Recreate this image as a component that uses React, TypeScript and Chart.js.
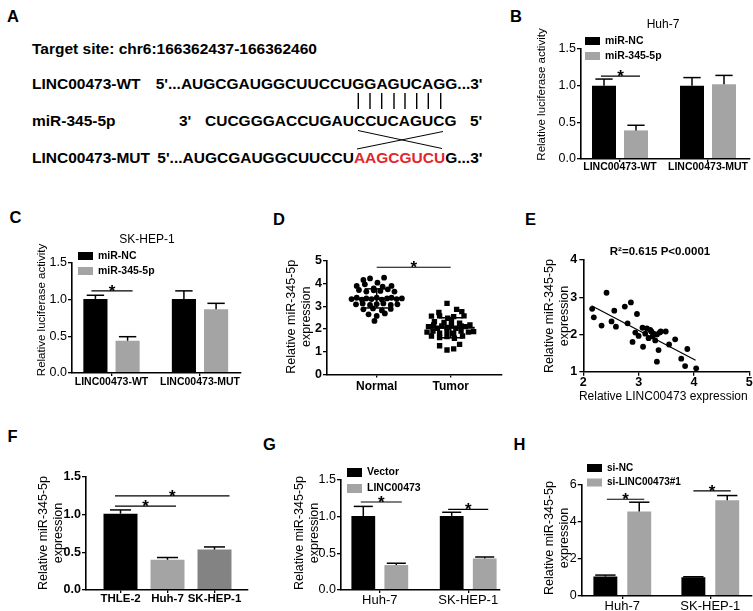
import React, { useEffect, useRef } from 'react';
import { Chart, registerables } from 'chart.js';

Chart.register(...registerables);

// ---------------- data ----------------
// B: luciferase, Huh-7
const lucLabels = ['LINC00473-WT', 'LINC00473-MUT'];
const huhNC = [1.0, 1.0];
const huhNCErr = [0.09, 0.11];
const huhMiR = [0.39, 1.02];
const huhMiRErr = [0.07, 0.12];
// C: luciferase, SK-HEP-1
const skNC = [1.01, 1.01];
const skNCErr = [0.05, 0.11];
const skMiR = [0.44, 0.87];
const skMiRErr = [0.055, 0.08];
// D: tissue expression
const dLabels = ['Normal', 'Tumor'];
const normalValues = [4.15, 4.22, 4.03, 4.25, 3.89, 3.96, 3.78, 3.86, 3.89, 3.71, 3.64, 3.70, 3.67, 3.74, 3.64, 3.31, 3.37, 3.29, 3.34, 3.31, 3.37, 3.29, 3.34, 3.37, 3.31, 3.34, 3.08, 3.12, 3.05, 3.09, 3.12, 3.05, 3.08, 2.86, 2.90, 2.81, 2.88, 2.64, 2.57, 2.68, 2.35];
const normalJitter = [-0.18, -0.09, 0.01, 0.10, -0.27, -0.16, -0.04, 0.08, 0.20, -0.24, -0.14, -0.04, 0.05, 0.15, 0.24, -0.34, -0.27, -0.20, -0.14, -0.07, 0, 0.07, 0.14, 0.20, 0.27, 0.34, -0.28, -0.19, -0.09, 0, 0.09, 0.19, 0.28, -0.18, -0.05, 0.07, 0.19, -0.11, 0, 0.11, -0.03];
const tumorValues = [3.12, 2.86, 2.76, 2.72, 2.56, 2.57, 2.47, 2.54, 2.57, 2.32, 2.28, 2.35, 2.25, 2.10, 2.17, 2.03, 2.13, 2.06, 2.14, 2.03, 2.13, 2.10, 2.17, 1.86, 1.91, 1.81, 1.88, 1.81, 1.91, 1.86, 1.88, 1.69, 1.62, 1.66, 1.59, 1.69, 1.26, 1.07, 1.12, 1.32];
const tumorJitter = [-0.05, 0.08, 0.15, -0.16, -0.26, -0.15, -0.04, 0.04, 0.18, -0.22, -0.09, 0.01, 0.12, -0.30, -0.23, -0.18, -0.12, -0.05, 0.01, 0.07, 0.14, 0.20, 0.26, -0.32, -0.24, -0.15, -0.05, 0.04, 0.14, 0.24, 0.31, -0.26, -0.15, -0.05, 0.05, 0.16, -0.15, -0.05, 0.04, 0.12];
const dMeans = [3.34, 2.05];
const dSDs = [0.42, 0.44];
// E: correlation
const eLinc = [2.16, 2.19, 2.33, 2.42, 2.51, 2.56, 2.59, 2.75, 2.80, 2.86, 2.89, 2.94, 2.97, 3.00, 3.07, 3.08, 3.12, 3.15, 3.18, 3.21, 3.23, 3.25, 3.27, 3.30, 3.33, 3.33, 3.36, 3.38, 3.40, 3.49, 3.55, 3.66, 3.77, 3.84, 3.88, 4.04];
const eMiR = [2.69, 2.46, 2.24, 3.12, 2.35, 2.64, 2.21, 2.75, 2.30, 2.86, 1.80, 2.05, 2.55, 1.96, 2.18, 1.67, 2.02, 2.16, 1.90, 2.12, 2.08, 1.95, 2.02, 1.84, 2.00, 1.27, 1.58, 2.05, 2.08, 2.08, 1.73, 1.87, 1.35, 1.15, 1.61, 1.09];
const eFitX = [2.15, 4.03];
const eFitY = [2.77, 1.31];
// F: cell lines
const fLabels = ['THLE-2', 'Huh-7', 'SK-HEP-1'];
const fValues = [1.01, 0.40, 0.535];
const fErr = [0.05, 0.03, 0.035];
// G: overexpression
const cellLabels = ['Huh-7', 'SK-HEP-1'];
const gVector = [1.01, 1.01];
const gVectorErr = [0.13, 0.05];
const gLinc = [0.34, 0.43];
const gLincErr = [0.025, 0.02];
// H: knockdown
const hSiNC = [1.05, 1.02];
const hSiNCErr = [0.08, 0.02];
const hSiLinc = [4.57, 5.18];
const hSiLincErr = [0.5, 0.25];

// ---------------- style helpers ----------------
const CW = 900;
const CH = 700;
const AXW = 40;
const AXH = 30;
const FF = "'Liberation Sans', Arial, Helvetica, sans-serif";
const BLACK = '#000000';
const GRAY = '#a4a4a4';
const DGRAY = '#838383';

const f = (size: number, bold = false) => `${bold ? 'bold ' : ''}${size}px ${FF}`;
const cf = (size: number, bold = false) => ({ family: FF, size, weight: bold ? 'bold' : 'normal', lineHeight: 1 });
const gridOpts = (tl: number) => ({ display: true, drawOnChartArea: false, drawTicks: true, tickLength: tl, tickWidth: 1.3, tickColor: '#000', color: '#000', lineWidth: 1.3, offset: false });
const borderOpts = { display: true, color: '#000', width: 1.6, z: 1 };

function line(ctx: CanvasRenderingContext2D, x1: number, y1: number, x2: number, y2: number, w: number) {
  ctx.lineWidth = w;
  ctx.strokeStyle = '#000';
  ctx.beginPath();
  ctx.moveTo(x1, y1);
  ctx.lineTo(x2, y2);
  ctx.stroke();
}
function txt(ctx: CanvasRenderingContext2D, s: string, x: number, y: number, font: string, align: CanvasTextAlign = 'center', base: CanvasTextBaseline = 'middle') {
  ctx.font = font;
  ctx.textAlign = align;
  ctx.textBaseline = base;
  ctx.fillStyle = '#000';
  ctx.fillText(s, x, y);
}
function vtxt(ctx: CanvasRenderingContext2D, s: string, x: number, y: number, font: string) {
  ctx.save();
  ctx.translate(x, y);
  ctx.rotate(-Math.PI / 2);
  txt(ctx, s, 0, 0, font);
  ctx.restore();
}
function star(ctx: CanvasRenderingContext2D, x: number, lineY: number) {
  txt(ctx, '*', x, lineY - 4 + 9.8, f(17, true), 'center', 'alphabetic');
}
function drawDecor(ctx: CanvasRenderingContext2D, p: any) {
  if (p.yTitle) p.yTitle.lines.forEach((s: string, i: number) => vtxt(ctx, s, p.yTitle.xs[i], p.yTitle.cy, p.yTitle.font));
  if (p.title) txt(ctx, p.title.text, p.title.x, p.title.y, p.title.font);
  if (p.xTitle) txt(ctx, p.xTitle.text, p.xTitle.x, p.xTitle.y, p.xTitle.font);
  if (p.legend) {
    const L = p.legend;
    L.items.forEach((it: any, i: number) => {
      const y = L.y + i * L.dy;
      ctx.fillStyle = it.color;
      ctx.fillRect(L.x, y, L.w, L.h);
      txt(ctx, it.text, L.x + L.w + 5, y + L.h / 2, L.font, 'left');
    });
  }
}

// ---------------- bar panels ----------------
function barAnnot(p: any) {
  return {
    id: 'annot',
    afterDraw(chart: any) {
      const ctx = chart.ctx as CanvasRenderingContext2D;
      const ys = chart.scales.y;
      ctx.save();
      p.sets.forEach((s: any, di: number) => {
        const meta = chart.getDatasetMeta(di);
        meta.data.forEach((el: any, i: number) => {
          const top = ys.getPixelForValue(s.values[i] + s.errors[i]);
          const hw = (el.width * p.capRatio) / 2;
          line(ctx, el.x, el.y, el.x, top, 1.5);
          line(ctx, el.x - hw, top, el.x + hw, top, 1.5);
        });
      });
      p.sig.forEach((g: any) => {
        const xa = chart.getDatasetMeta(g.a[0]).data[g.a[1]].x - g.l;
        const xb = chart.getDatasetMeta(g.b[0]).data[g.b[1]].x + g.r;
        const y = ys.getPixelForValue(g.v);
        line(ctx, xa, y, xb, y, 1.2);
        star(ctx, (xa + xb) / 2, y);
      });
      drawDecor(ctx, p);
      ctx.restore();
    },
  };
}

function barPanel(p: any) {
  const min = 1 - (p.first - p.x0) / p.spacing;
  const max = min + (p.x1 - p.x0) / p.spacing;
  return {
    type: 'bar',
    data: {
      datasets: p.sets.map((s: any) => ({
        data: s.values.map((v: number, i: number) => ({ x: i + 1, y: v })),
        backgroundColor: s.color,
        borderWidth: 0,
        categoryPercentage: p.catPct,
        barPercentage: p.barPct,
      })),
    },
    options: {
      animation: false,
      responsive: false,
      devicePixelRatio: 1,
      events: [],
      layout: { padding: { left: p.x0 - AXW, top: p.y0, right: CW - p.x1, bottom: CH - p.y1 - AXH } },
      plugins: { legend: { display: false }, tooltip: { enabled: false } },
      scales: {
        x: {
          type: 'linear',
          min,
          max,
          offset: false,
          afterBuildTicks: (s: any) => {
            s.ticks = p.labels.map((_: any, i: number) => ({ value: i + 1 }));
          },
          afterFit: (s: any) => {
            s.height = AXH;
          },
          grid: gridOpts(3),
          border: borderOpts,
          ticks: {
            autoSkip: false,
            maxRotation: 0,
            minRotation: 0,
            padding: p.xPad,
            color: '#000',
            font: p.xFont,
            callback: (v: number) => p.labels[Math.round(v) - 1] ?? '',
          },
        },
        y: {
          type: 'linear',
          min: 0,
          max: p.yMax,
          afterFit: (s: any) => {
            s.width = AXW;
          },
          grid: gridOpts(4),
          border: borderOpts,
          ticks: { stepSize: p.yStep, padding: 1, color: '#000', font: p.yFont, callback: (v: number) => Number(v).toFixed(p.yDec) },
        },
      },
    },
    plugins: [barAnnot(p)],
  };
}

const lucTitle = (x: number, cy: number) => ({ lines: ['Relative luciferase activity'], xs: [x], cy, font: f(11.5) });
const mirTitle = (x1: number, x2: number, cy: number) => ({ lines: ['Relative miR-345-5p', 'expression'], xs: [x1, x2], cy, font: f(12.5) });

const panelB = () =>
  barPanel({
    x0: 581, x1: 750, y0: 49, y1: 159, first: 620, spacing: 88,
    labels: lucLabels, yMax: 1.5, yStep: 0.5, yDec: 1, yFont: cf(12.5), xFont: cf(10.5, true), xPad: 0,
    catPct: 0.727, barPct: 0.75, capRatio: 0.72,
    sets: [
      { values: huhNC, errors: huhNCErr, color: BLACK },
      { values: huhMiR, errors: huhMiRErr, color: GRAY },
    ],
    sig: [{ a: [0, 0], b: [1, 0], v: 1.13, l: 3, r: 4 }],
    yTitle: lucTitle(542, 94.5),
    title: { text: 'Huh-7', x: 663, y: 25, font: f(12) },
    legend: { x: 585, y: 37, dy: 15, w: 15, h: 8, font: f(10.5, true), items: [{ color: BLACK, text: 'miR-NC' }, { color: GRAY, text: 'miR-345-5p' }] },
  });

const panelC = () =>
  barPanel({
    x0: 72, x1: 241, y0: 263, y1: 373, first: 111.5, spacing: 88.5,
    labels: lucLabels, yMax: 1.5, yStep: 0.5, yDec: 1, yFont: cf(12.5), xFont: cf(10.5, true), xPad: 1,
    catPct: 0.727, barPct: 0.75, capRatio: 0.72,
    sets: [
      { values: skNC, errors: skNCErr, color: BLACK },
      { values: skMiR, errors: skMiRErr, color: GRAY },
    ],
    sig: [{ a: [0, 0], b: [1, 0], v: 1.12, l: 4, r: 5 }],
    yTitle: lucTitle(42, 310),
    title: { text: 'SK-HEP-1', x: 147, y: 240, font: f(12) },
    legend: { x: 78, y: 252, dy: 15, w: 15, h: 8, font: f(10.5, true), items: [{ color: BLACK, text: 'miR-NC' }, { color: GRAY, text: 'miR-345-5p' }] },
  });

const panelF = () =>
  barPanel({
    x0: 86, x1: 248, y0: 476.7, y1: 590, first: 120.5, spacing: 47,
    labels: fLabels, yMax: 1.5, yStep: 0.5, yDec: 1, yFont: cf(12.5, true), xFont: cf(11.5, true), xPad: 0,
    catPct: 1, barPct: 0.723, capRatio: 0.62,
    sets: [{ values: fValues, errors: fErr, color: [BLACK, GRAY, DGRAY] }],
    sig: [
      { a: [0, 0], b: [0, 2], v: 1.245, l: 5.5, r: 15 },
      { a: [0, 0], b: [0, 1], v: 1.11, l: 5.5, r: 8.5 },
    ],
    yTitle: mirTitle(43.3, 58.3, 533),
  });

const panelG = () =>
  barPanel({
    x0: 341, x1: 500, y0: 480, y1: 590, first: 379.8, spacing: 88.4,
    labels: cellLabels, yMax: 1.5, yStep: 0.5, yDec: 1, yFont: cf(12.5), xFont: cf(13), xPad: 1,
    catPct: 0.747, barPct: 0.72, capRatio: 0.8,
    sets: [
      { values: gVector, errors: gVectorErr, color: BLACK },
      { values: gLinc, errors: gLincErr, color: GRAY },
    ],
    sig: [
      { a: [0, 0], b: [1, 0], v: 1.2, l: 2.5, r: 5.5 },
      { a: [0, 1], b: [1, 1], v: 1.1, l: 3.5, r: 3.5 },
    ],
    yTitle: mirTitle(300, 315, 533),
    legend: { x: 347, y: 468, dy: 16, w: 15, h: 9, font: f(10.5, true), items: [{ color: BLACK, text: 'Vector' }, { color: GRAY, text: 'LINC00473' }] },
  });

const panelH = () =>
  barPanel({
    x0: 581.7, x1: 752, y0: 485, y1: 596, first: 622.3, spacing: 88,
    labels: cellLabels, yMax: 6, yStep: 2, yDec: 0, yFont: cf(12.5), xFont: cf(13), xPad: 0.5,
    catPct: 0.77, barPct: 0.706, capRatio: 0.85,
    sets: [
      { values: hSiNC, errors: hSiNCErr, color: BLACK },
      { values: hSiLinc, errors: hSiLincErr, color: GRAY },
    ],
    sig: [
      { a: [0, 0], b: [1, 0], v: 5.23, l: -1.5, r: 5 },
      { a: [0, 1], b: [1, 1], v: 5.68, l: 0, r: 3.5 },
    ],
    yTitle: mirTitle(550, 565, 538),
    legend: { x: 587, y: 464, dy: 14.5, w: 15, h: 8, font: f(10, true), items: [{ color: BLACK, text: 'si-NC' }, { color: GRAY, text: 'si-LINC00473#1' }] },
  });

// ---------------- D: scatter dot plot ----------------
const panelD = () => {
  const x0 = 327, x1 = 502, first = 376.7, spacing = 74, y0 = 260.65, y1 = 374.4;
  const min = 1 - (first - x0) / spacing;
  const max = min + (x1 - x0) / spacing;
  const deco = { yTitle: mirTitle(291.7, 306.7, 316.7) };
  return {
    type: 'scatter',
    data: {
      datasets: [
        { data: normalValues.map((v, i) => ({ x: 1 + normalJitter[i], y: v })), pointStyle: 'circle', pointRadius: 2.9, backgroundColor: '#000', borderWidth: 0 },
        { data: tumorValues.map((v, i) => ({ x: 2 + tumorJitter[i], y: v })), pointStyle: 'rect', pointRadius: 3.8, backgroundColor: '#000', borderWidth: 0 },
      ],
    },
    options: {
      animation: false, responsive: false, devicePixelRatio: 1, events: [],
      layout: { padding: { left: x0 - AXW, top: y0, right: CW - x1, bottom: CH - y1 - AXH } },
      plugins: { legend: { display: false }, tooltip: { enabled: false } },
      scales: {
        x: {
          type: 'linear', min, max, offset: false,
          afterBuildTicks: (s: any) => { s.ticks = dLabels.map((_, i) => ({ value: i + 1 })); },
          afterFit: (s: any) => { s.height = AXH; },
          grid: gridOpts(3), border: borderOpts,
          ticks: { autoSkip: false, maxRotation: 0, minRotation: 0, padding: 3, color: '#000', font: cf(12, true), callback: (v: number) => dLabels[Math.round(v) - 1] ?? '' },
        },
        y: {
          type: 'linear', min: 0, max: 5,
          afterFit: (s: any) => { s.width = AXW; },
          grid: gridOpts(4), border: borderOpts,
          ticks: { stepSize: 1, padding: 1, color: '#000', font: cf(12.5, true) },
        },
      },
    },
    plugins: [
      {
        id: 'annotD',
        afterDraw(chart: any) {
          const ctx = chart.ctx as CanvasRenderingContext2D;
          const xs = chart.scales.x, ys = chart.scales.y;
          ctx.save();
          dMeans.forEach((m, i) => {
            const cx = xs.getPixelForValue(i + 1);
            const ym = ys.getPixelForValue(m);
            const yt = ys.getPixelForValue(m + dSDs[i]);
            const yb = ys.getPixelForValue(m - dSDs[i]);
            line(ctx, cx - 24, ym, cx + 24, ym, 1.8);
            line(ctx, cx, yt, cx, yb, 1.5);
            line(ctx, cx - 12, yt, cx + 12, yt, 1.5);
            line(ctx, cx - 12, yb, cx + 12, yb, 1.5);
          });
          const xa = xs.getPixelForValue(1), xb = xs.getPixelForValue(2), y = ys.getPixelForValue(4.71);
          line(ctx, xa, y, xb, y, 1.2);
          star(ctx, (xa + xb) / 2, y);
          drawDecor(ctx, deco);
          ctx.restore();
        },
      },
    ],
  };
};

// ---------------- E: correlation ----------------
const panelE = () => {
  const x0 = 583.3, x1 = 749.3, y0 = 260, y1 = 371.7;
  const deco = {
    yTitle: mirTitle(550, 565, 316),
    title: { text: 'R²=0.615 P<0.0001', x: 660, y: 251.7, font: f(11.5, true) },
    xTitle: { text: 'Relative LINC00473 expression', x: 663.3, y: 396.7, font: f(12) },
  };
  return {
    type: 'scatter',
    data: {
      datasets: [
        { data: eLinc.map((x, i) => ({ x, y: eMiR[i] })), pointRadius: 2.9, backgroundColor: '#000', borderWidth: 0 },
        { type: 'line', data: eFitX.map((x, i) => ({ x, y: eFitY[i] })), showLine: true, borderColor: '#000', borderWidth: 1.2, pointRadius: 0, fill: false },
      ],
    },
    options: {
      animation: false, responsive: false, devicePixelRatio: 1, events: [],
      layout: { padding: { left: x0 - AXW, top: y0, right: CW - x1, bottom: CH - y1 - AXH } },
      plugins: { legend: { display: false }, tooltip: { enabled: false } },
      scales: {
        x: {
          type: 'linear', min: 2, max: 5,
          afterFit: (s: any) => { s.height = AXH; },
          grid: gridOpts(4), border: borderOpts,
          ticks: { stepSize: 1, padding: 1, color: '#000', font: cf(12.5, true), maxRotation: 0 },
        },
        y: {
          type: 'linear', min: 1, max: 4,
          afterFit: (s: any) => { s.width = AXW; },
          grid: gridOpts(4), border: borderOpts,
          ticks: { stepSize: 1, padding: 2, color: '#000', font: cf(12.5, true) },
        },
      },
    },
    plugins: [
      {
        id: 'annotE',
        afterDraw(chart: any) {
          const ctx = chart.ctx as CanvasRenderingContext2D;
          ctx.save();
          drawDecor(ctx, deco);
          ctx.restore();
        },
      },
    ],
  };
};

// ---------------- components ----------------
function ChartCanvas({ make }: { make: () => any }) {
  const ref = useRef<HTMLCanvasElement>(null);
  useEffect(() => {
    const chart = new Chart(ref.current as HTMLCanvasElement, make());
    return () => chart.destroy();
  }, []);
  return <canvas ref={ref} width={CW} height={CH} style={{ position: 'absolute', left: 0, top: 0, width: CW, height: CH }} />;
}

const seq: React.CSSProperties = {
  position: 'absolute',
  fontFamily: FF,
  fontWeight: 'bold',
  fontSize: '15.5px',
  lineHeight: '18px',
  whiteSpace: 'pre',
  color: '#000',
};
const letter: React.CSSProperties = {
  position: 'absolute',
  fontFamily: FF,
  fontWeight: 'bold',
  fontSize: '16.5px',
  lineHeight: '20px',
  color: '#000',
};

const pairBarsX = [358.3, 370, 381.7, 394, 405, 416.7, 428.3, 440.7];

export default function App() {
  const rowTop = (cy: number) => cy - 9;
  const letTop = (cy: number) => cy - 9.6;
  return (
    <div style={{ position: 'absolute', left: 0, top: 0, width: 753, height: 611, overflow: 'hidden', background: '#fff' }}>
      {/* panel letters */}
      <div style={{ ...letter, left: 7, top: letTop(16) }}>A</div>
      <div style={{ ...letter, left: 510, top: letTop(15.8) }}>B</div>
      <div style={{ ...letter, left: 9.5, top: letTop(216.5) }}>C</div>
      <div style={{ ...letter, left: 273, top: letTop(219) }}>D</div>
      <div style={{ ...letter, left: 525, top: letTop(219) }}>E</div>
      <div style={{ ...letter, left: 7.5, top: letTop(435.7) }}>F</div>
      <div style={{ ...letter, left: 263, top: letTop(443.8) }}>G</div>
      <div style={{ ...letter, left: 513.5, top: letTop(443.7) }}>H</div>

      {/* panel A */}
      <div style={{ ...seq, left: 32, top: rowTop(48.8) }}>Target site: chr6:166362437-166362460</div>
      <div style={{ ...seq, left: 32, top: rowTop(83.8) }}>LINC00473-WT</div>
      <div style={{ ...seq, left: 155.7, top: rowTop(83.8) }}>5'...AUGCGAUGGCUUCCUGGAGUCAGG...3'</div>
      <div style={{ ...seq, left: 32, top: rowTop(120.5) }}>miR-345-5p</div>
      <div style={{ ...seq, left: 179, top: rowTop(120.5) }}>3'</div>
      <div style={{ ...seq, left: 205, top: rowTop(120.5) }}>CUCGGGACCUGAUCCUCAGUCG</div>
      <div style={{ ...seq, left: 470, top: rowTop(120.5) }}>5'</div>
      <div style={{ ...seq, left: 32, top: rowTop(157.5) }}>LINC00473-MUT</div>
      <div style={{ ...seq, left: 157.3, top: rowTop(157.5) }}>
        5'...AUGCGAUGGCUUCCU<span style={{ color: '#e3262b' }}>AAGCGUCU</span>G...3'
      </div>
      <svg width={753} height={611} style={{ position: 'absolute', left: 0, top: 0 }}>
        {pairBarsX.map((x, i) => (
          <line key={i} x1={x} y1={93} x2={x} y2={109} stroke="#000" strokeWidth={1.4} />
        ))}
        <line x1={358} y1={130.5} x2={442} y2={148.5} stroke="#000" strokeWidth={1} />
        <line x1={443} y1={131.5} x2={357} y2={149} stroke="#000" strokeWidth={1} />
      </svg>

      <ChartCanvas make={panelB} />
      <ChartCanvas make={panelC} />
      <ChartCanvas make={panelD} />
      <ChartCanvas make={panelE} />
      <ChartCanvas make={panelF} />
      <ChartCanvas make={panelG} />
      <ChartCanvas make={panelH} />
    </div>
  );
}
